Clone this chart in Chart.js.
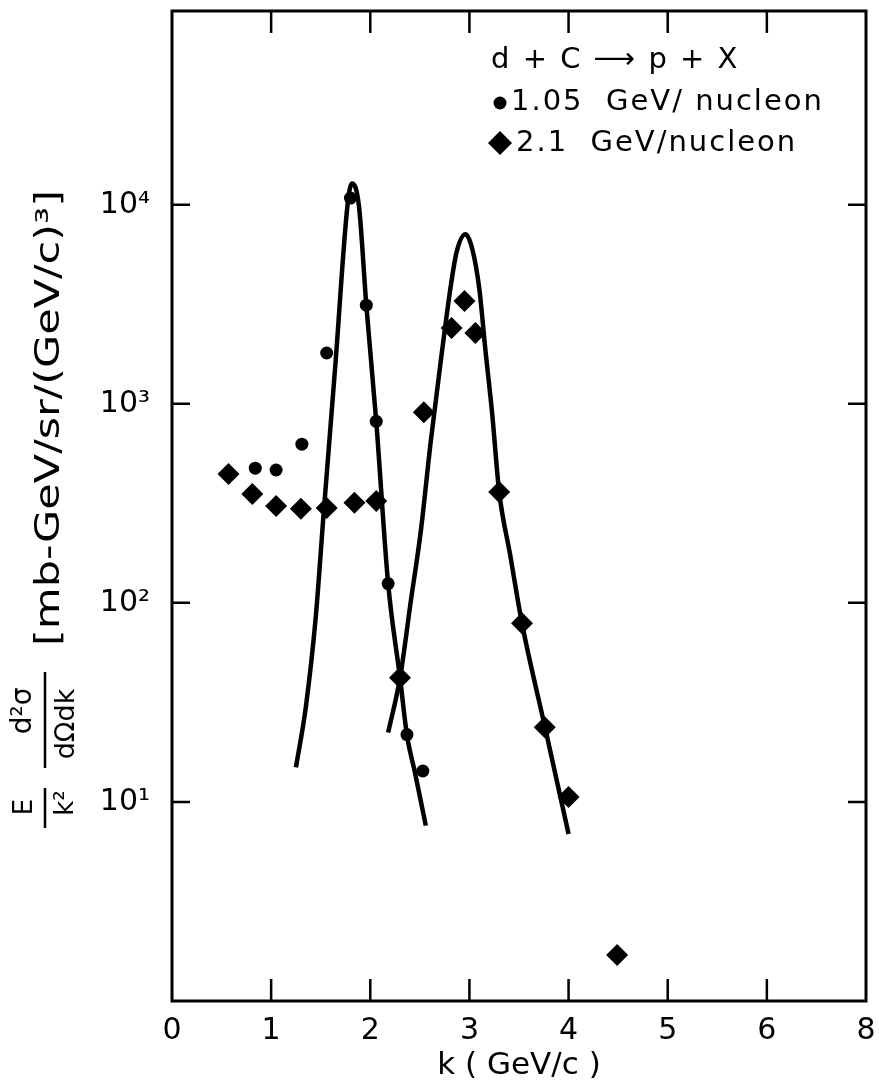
<!DOCTYPE html>
<html>
<head>
<meta charset="utf-8">
<script src="https://cdn.jsdelivr.net/npm/chart.js@4.4.1/dist/chart.umd.min.js"></script>
<style>
  html, body { margin: 0; padding: 0; background: #fff; }
  #wrap { width: 879px; height: 1088px; position: relative; }
</style>
</head>
<body>
<div id="wrap"><canvas id="chartCross"></canvas></div>
<script>
/* Datos 1.05 GeV/nucleon (circulos) */
const kCircle = [0.84, 1.05, 1.31, 1.56, 1.80, 1.96, 2.06, 2.18, 2.37, 2.53];
const valCircle = [475, 465, 627, 1800, 10800, 3130, 816, 125, 21.8, 14.3];

/* Datos 2.1 GeV/nucleon (rombos) */
const kDiamond = [0.57, 0.81, 1.05, 1.30, 1.56, 1.84, 2.06, 2.30, 2.54, 2.82, 2.95, 3.06, 3.30, 3.53, 3.76, 4.00, 4.49];
const valDiamond = [444, 352, 307, 297, 300, 318, 325, 42, 906, 2400, 3280, 2270, 361, 79, 23.7, 10.6, 1.70];

/* Curva de ajuste 1.05 GeV */
const kFit1 = [1.25, 1.35, 1.45, 1.53, 1.65, 1.77, 1.815, 1.885, 1.96, 2.06, 2.18, 2.30, 2.37, 2.45, 2.56];
const valFit1 = [14.9, 30, 85, 283, 1625, 9900, 12800, 9900, 3130, 816, 125, 42, 21.6, 14.1, 7.6];

/* Curva de ajuste 2.1 GeV */
const kFit2 = [2.18, 2.30, 2.41, 2.51, 2.61, 2.71, 2.81, 2.87, 2.96, 3.03, 3.10, 3.16, 3.23, 3.30, 3.41, 3.53, 3.76, 4.00];
const valFit2 = [22.3, 42, 103, 230, 649, 1625, 3850, 5760, 7100, 5960, 3770, 1890, 885, 361, 175, 79, 24, 6.9];

/* Ejes */
const xTickValues = [0, 1, 2, 3, 4, 5, 6, 7];
const xTickLabels = ['0', '1', '2', '3', '4', '5', '6', '8'];
const yTickValues = [10, 100, 1000, 10000];
const yTickLabels = ['10\u00b9', '10\u00b2', '10\u00b3', '10\u2074'];

const legendTitle = 'd + C \u27f6 p + X';
const legendLabels = ['1.05  GeV/ nucleon', '2.1  GeV/nucleon'];
const yTitleText = '[mb-GeV/sr/(GeV/c)\u00b3]';

const FONT = "'DejaVu Sans', sans-serif";

const toPoints = (xs, ys) => xs.map((x, i) => ({ x: x, y: ys[i] }));

/* Marco y marcas interiores */
const framePlugin = {
  id: 'framePlugin',
  afterDraw(chart) {
    const { ctx, chartArea: a, scales } = chart;
    ctx.save();
    ctx.strokeStyle = '#000';
    ctx.lineWidth = 3;
    ctx.strokeRect(a.left, a.top, a.right - a.left, a.bottom - a.top);
    ctx.lineWidth = 2.5;
    ctx.beginPath();
    xTickValues.forEach((v) => {
      if (v > 0 && v < 7) {
        const px = scales.x.getPixelForValue(v);
        ctx.moveTo(px, a.bottom);
        ctx.lineTo(px, a.bottom - 22);
        ctx.moveTo(px, a.top);
        ctx.lineTo(px, a.top + 22);
      }
    });
    yTickValues.forEach((v) => {
      const py = scales.y.getPixelForValue(v);
      ctx.moveTo(a.left, py);
      ctx.lineTo(a.left + 18, py);
      ctx.moveTo(a.right, py);
      ctx.lineTo(a.right - 18, py);
    });
    ctx.stroke();
    ctx.restore();
  },
};

/* Texto rotado 90 grados */
function rotText(ctx, text, x, y, size, align, fitLength) {
  ctx.save();
  ctx.translate(x, y);
  ctx.rotate(-Math.PI / 2);
  ctx.font = `${size}px ${FONT}`;
  ctx.textAlign = align || 'center';
  ctx.textBaseline = 'middle';
  if (fitLength) {
    const w = ctx.measureText(text).width;
    ctx.scale(fitLength / w, 1);
  }
  ctx.fillText(text, 0, 0);
  ctx.restore();
}

/* Titulo eje Y */
const yTitlePlugin = {
  id: 'yTitlePlugin',
  afterDraw(chart) {
    const ctx = chart.ctx;
    ctx.save();
    ctx.fillStyle = '#000';
    ctx.strokeStyle = '#000';
    rotText(ctx, yTitleText, 50, 646, 33, 'left', 456);
    rotText(ctx, 'd\u00b2\u03c3', 24, 711, 28);
    rotText(ctx, 'd\u03a9dk', 67, 724, 27);
    rotText(ctx, 'E', 25, 807, 26);
    rotText(ctx, 'k\u00b2', 66, 803, 26);
    ctx.lineWidth = 2.5;
    ctx.beginPath();
    ctx.moveTo(45, 672);
    ctx.lineTo(45, 768);
    ctx.moveTo(45, 788);
    ctx.lineTo(45, 828);
    ctx.stroke();
    ctx.restore();
  },
};

/* Leyenda */
const legendPlugin = {
  id: 'legendPlugin',
  afterDraw(chart) {
    const ctx = chart.ctx;
    ctx.save();
    ctx.fillStyle = '#000';
    ctx.font = `29px ${FONT}`;
    ctx.letterSpacing = '2px';
    ctx.textAlign = 'left';
    ctx.textBaseline = 'middle';
    ctx.fillText(legendTitle, 491, 60);
    ctx.fillText(legendLabels[0], 511, 102);
    ctx.fillText(legendLabels[1], 516, 143);
    ctx.beginPath();
    ctx.arc(500, 103, 6.5, 0, Math.PI * 2);
    ctx.fill();
    ctx.beginPath();
    ctx.moveTo(500, 131);
    ctx.lineTo(512, 143);
    ctx.lineTo(500, 155);
    ctx.lineTo(488, 143);
    ctx.closePath();
    ctx.fill();
    ctx.restore();
  },
};

const cmc = document.getElementById('chartCross');
const chartCross = new Chart(cmc, {
  type: 'scatter',
  plugins: [framePlugin, yTitlePlugin, legendPlugin],
  data: {
    datasets: [
      {
        data: toPoints(kCircle, valCircle),
        pointStyle: 'circle',
        pointRadius: 6.5,
        backgroundColor: '#000',
        borderColor: '#000',
        borderWidth: 0,
      },
      {
        data: toPoints(kDiamond, valDiamond),
        pointStyle: 'rectRot',
        pointRadius: 11,
        backgroundColor: '#000',
        borderColor: '#000',
        borderWidth: 0,
      },
      {
        data: toPoints(kFit1, valFit1),
        showLine: true,
        pointRadius: 0,
        borderColor: '#000',
        borderWidth: 4.5,
        cubicInterpolationMode: 'monotone',
      },
      {
        data: toPoints(kFit2, valFit2),
        showLine: true,
        pointRadius: 0,
        borderColor: '#000',
        borderWidth: 4.5,
        cubicInterpolationMode: 'monotone',
      },
    ],
  },
  options: {
    responsive: true,
    maintainAspectRatio: false,
    animation: false,
    layout: { padding: { top: 9, right: 13, left: 0, bottom: 0 } },
    plugins: {
      legend: { display: false },
      tooltip: { enabled: false },
    },
    scales: {
      x: {
        type: 'linear',
        min: 0,
        max: 7,
        afterBuildTicks: (scale) => {
          scale.ticks = xTickValues.map((v) => ({ value: v }));
        },
        afterFit: (scale) => {
          scale.height = 87;
          scale.paddingLeft = 0;
          scale.paddingRight = 0;
        },
        ticks: {
          callback: (value, index) => xTickLabels[index],
          color: '#000',
          font: { family: FONT, size: 30 },
          padding: 12,
          maxRotation: 0,
        },
        grid: { display: false, drawTicks: false },
        border: { display: false },
        title: {
          display: true,
          text: 'k ( GeV/c )',
          color: '#000',
          font: { family: FONT, size: 31 },
          padding: { top: 0, bottom: 3 },
        },
      },
      y: {
        type: 'logarithmic',
        min: 1,
        max: 94000,
        afterBuildTicks: (scale) => {
          scale.ticks = yTickValues.map((v) => ({ value: v }));
        },
        afterFit: (scale) => {
          scale.width = 172;
          scale.paddingTop = 0;
          scale.paddingBottom = 0;
        },
        ticks: {
          callback: (value, index) => yTickLabels[index],
          color: '#000',
          font: { family: FONT, size: 30 },
          padding: 22,
        },
        grid: { display: false, drawTicks: false },
        border: { display: false },
      },
    },
  },
});
</script>
</body>
</html>
